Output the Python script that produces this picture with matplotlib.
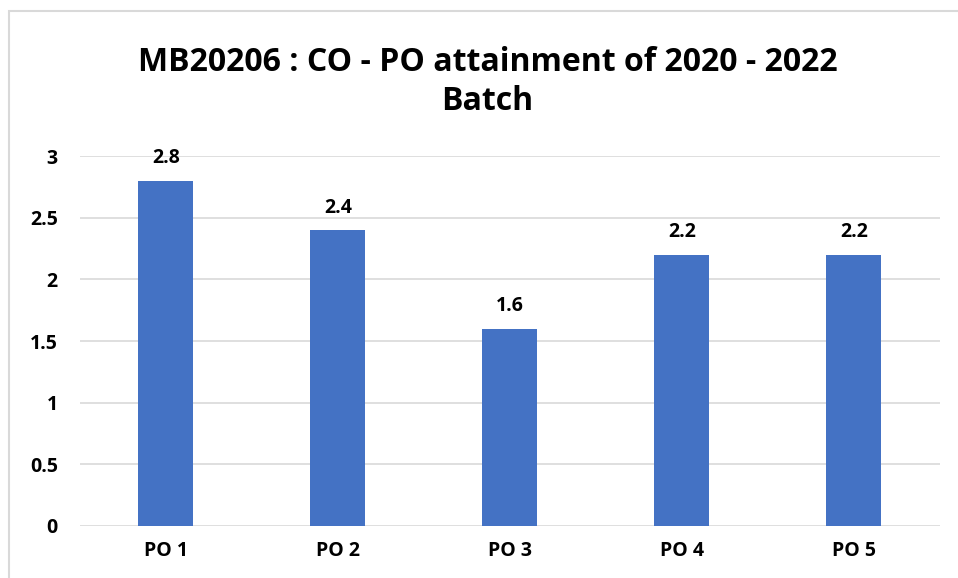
import matplotlib.pyplot as plt
from matplotlib.patches import Rectangle

# Data
categories = ["PO 1", "PO 2", "PO 3", "PO 4", "PO 5"]
attainment = [2.8, 2.4, 1.6, 2.2, 2.2]
y_ticks = [0, 0.5, 1, 1.5, 2, 2.5, 3]
y_tick_labels = ["0", "0.5", "1", "1.5", "2", "2.5", "3"]

plt.rcParams['font.family'] = ['Open Sans', 'DejaVu Sans']

fig = plt.figure(figsize=(9.58, 5.78), dpi=100)
ax = fig.add_axes([0.0835, 0.09, 0.8975, 0.64])

x = range(len(categories))
bars = ax.bar(x, attainment, width=0.32, color='#4472C4', zorder=3)

for xi, v in zip(x, attainment):
    ax.text(xi, v + 0.1, f"{v:g}", ha='center', va='bottom',
            fontsize=14, fontweight='bold', color='#000000')

ax.set_xlim(-0.5, len(categories) - 0.5)
ax.set_ylim(0, 3)
ax.set_yticks(y_ticks)
ax.set_yticklabels(y_tick_labels, fontsize=14, fontweight='bold')
ax.set_xticks(list(x))
ax.set_xticklabels(categories, fontsize=14, fontweight='bold')
ax.tick_params(axis='both', length=0)
ax.tick_params(axis='y', pad=16)
ax.tick_params(axis='x', pad=11)
ax.grid(axis='y', color='#D9D9D9', linewidth=1.2, zorder=0)
for s in ax.spines.values():
    s.set_visible(False)

fig.text(0.509, 0.858, "MB20206 : CO - PO attainment of 2020 - 2022\nBatch",
         ha='center', va='center', fontsize=23, fontweight='bold',
         linespacing=1.27)

# chart border
fig.patches.append(Rectangle((9 / 958, -0.05), 1.1, 1 - 11 / 578 + 0.05,
                             transform=fig.transFigure, fill=False,
                             edgecolor='#D9D9D9', linewidth=1.5))

fig.savefig("out.png", dpi=100)
